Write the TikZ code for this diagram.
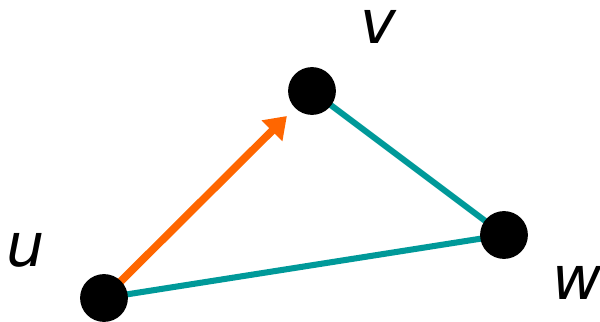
\documentclass[tikz,border=0pt]{standalone}
\usepackage{fontspec}
\setsansfont{DejaVu Sans}
\usetikzlibrary{arrows.meta, backgrounds}
\definecolor{edgecolor}{RGB}{0,153,153}
\definecolor{arrowcolor}{RGB}{255,102,0}

\begin{document}
\begin{tikzpicture}[
    x=0.025cm, y=-0.025cm,
    vertex/.style={circle, fill=black, inner sep=0pt, minimum size=34pt},
    vlabel/.style={font=\sffamily\itshape\fontsize{43}{50}\selectfont, inner sep=0pt, text height=23.5pt, text depth=0pt},
    edge/.style={edgecolor, line width=4.3pt},
    arrow/.style={arrowcolor, line width=5.5pt, -{Triangle[length=15pt,width=20pt]}, shorten >=8pt}
]

    \useasboundingbox (0,0) rectangle (600,322);

    % Vertices
    \node[vertex] (u) at (104,298) {};
    \node[vertex] (v) at (312,91) {};
    \node[vertex] (w) at (504,235) {};

    % Labels
    \node[vlabel] (lu) at (26,250) {u};
    \node[vlabel] (lv) at (378,27) {v};
    \node[vlabel] (lw) at (577,283) {w};

    % Edges
    \begin{scope}[on background layer]
        \draw[edge] (v.center) -- (w.center);
        \draw[edge] (u.center) -- (w.center);
        \draw[arrow] (u.center) -- (v);
    \end{scope}

\end{tikzpicture}
\end{document}
